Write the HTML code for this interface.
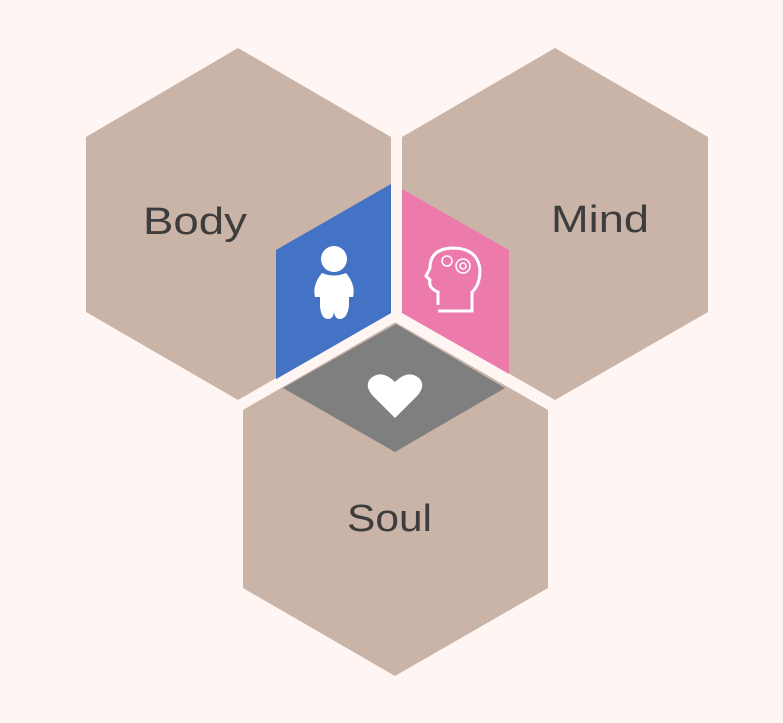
<!DOCTYPE html>
<html><head><style>
html,body{margin:0;padding:0;background:#fff6f4;}
svg{display:block;}
text{font-family:"Liberation Sans",sans-serif;font-size:38px;fill:#3d3d3d;}
</style></head><body>
<svg width="783" height="723" viewBox="0 0 783 723">
<rect width="783" height="723" fill="#fff6f4"/>
<polygon points="238,48 391,137 391,312 238,400 86,312 86,137" fill="#c9b4a7"/>
<polygon points="555,48 708,137 708,312 555,400 402,312 402,137" fill="#c9b4a7"/>
<polygon points="395,322 548,410 548,588 395,676 243,588 243,410" fill="#c9b4a7"/>
<polygon points="391,184 276,250 276,380 391,314" fill="#4472c4"/>
<polygon points="402,189 509,250 509,374 402,313" fill="#ec7aab"/>
<polygon points="396,324 283,388 395,452 505,388" fill="#7f7f7f"/>
<polyline points="276,385 396,316 515,385" fill="none" stroke="#fff6f4" stroke-width="10"/>
<line x1="396" y1="40" x2="396" y2="318" stroke="#fff6f4" stroke-width="10"/>
<text x="143" y="234" textLength="104" lengthAdjust="spacingAndGlyphs">Body</text>
<text x="551" y="232" textLength="98" lengthAdjust="spacingAndGlyphs">Mind</text>
<text x="347" y="531" textLength="85" lengthAdjust="spacingAndGlyphs">Soul</text>
<g fill="#fff">
<circle cx="334" cy="259" r="13"/>
<path d="M322,273 Q334,278 346,273 Q356,285 353,297 L349,297 L349,306 Q347,319 340,319 Q335,319 334,312 Q333,319 328,319 Q321,319 320,306 L320,297 L315,297 Q312,285 322,273Z"/>
</g>
<g fill="none" stroke="#fff" stroke-width="3">
<path d="M438,305 L438,292 Q428,288 430,280 L426,276 L430,268 Q430,249 452,248 Q478,248 480,270 Q480,285 472,292 L472,311 L438,311"/>
<circle cx="447" cy="261" r="5" stroke-width="1.5"/>
<circle cx="463" cy="266" r="7" stroke-width="1.5"/>
<circle cx="463" cy="266" r="3" stroke-width="1.5"/>
</g>
<path d="M395,418 L372,395 Q364,385 371,378 Q382,369 395,382 Q408,369 419,378 Q426,385 418,395 Z" fill="#fff"/>
</svg>
</body></html>
